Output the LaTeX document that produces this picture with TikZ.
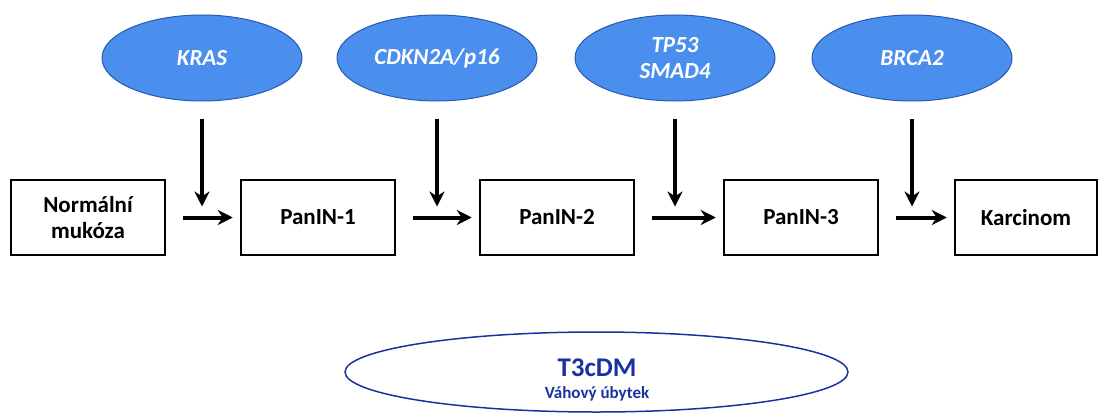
\documentclass[tikz,border=0pt]{standalone}
\usepackage{fontspec}
\setmainfont{Carlito}
\usetikzlibrary{shapes.geometric,arrows.meta}
\definecolor{genefill}{RGB}{74,142,238}
\definecolor{geneline}{RGB}{40,90,175}
\definecolor{dmblue}{RGB}{25,50,160}
\tikzset{
	gene/.style={ellipse,draw=geneline,fill=genefill,line width=1pt,minimum width=200pt,minimum height=86pt,inner sep=0pt,text=white,align=center,font=\fontsize{23}{26}\selectfont\bfseries\itshape},
	stage/.style={draw,line width=2.5pt,minimum width=154pt,minimum height=75pt,inner sep=0pt,align=center,font=\fontsize{23}{26}\selectfont\bfseries},
	arr/.style={line width=4pt,-{Stealth[length=15pt,width=15pt]}}
}
\begin{document}
\begin{tikzpicture}[x=1pt,y=-1pt]
\useasboundingbox (0,0) rectangle (1099,412);
\path
	(88,217.5) node[stage] (norm) {Normální\\mukóza}
	(318,217.5) node[stage] (pin1) {PanIN-1}
	(557,217.5) node[stage] (pin2) {PanIN-2}
	(801,217.5) node[stage] (pin3) {PanIN-3}
	(1026,217.5) node[stage,minimum width=142pt] (karc) {Karcinom};
\path
	(202,58) node[gene] (kras) {KRAS}
	(437,58) node[gene] (cdkn) {CDKN2A/p16}
	(675,58) node[gene] (tp53) {TP53\\SMAD4}
	(912,58) node[gene] (brca) {BRCA2};
\node[ellipse,draw=dmblue,line width=1.5pt,minimum width=503pt,minimum height=80pt] (dm) at (596.5,372) {};
\node[text=dmblue,align=center,font=\bfseries] (dmtext) at (597,380)
	{\fontsize{27}{29}\selectfont T3cDM\\[9pt]\fontsize{17}{18}\selectfont Váhový úbytek};
% stages
\foreach \a/\b in {norm/pin1,pin1/pin2,pin2/pin3,pin3/karc}
	\draw[arr,shorten <=17pt,shorten >=7pt] (\a.east) -- (\b.west);
% mutations
\foreach \g in {kras,cdkn,tp53,brca}
	\draw[arr,shorten <=17pt] (\g.south) -- ++(0,105);
\end{tikzpicture}
\end{document}
